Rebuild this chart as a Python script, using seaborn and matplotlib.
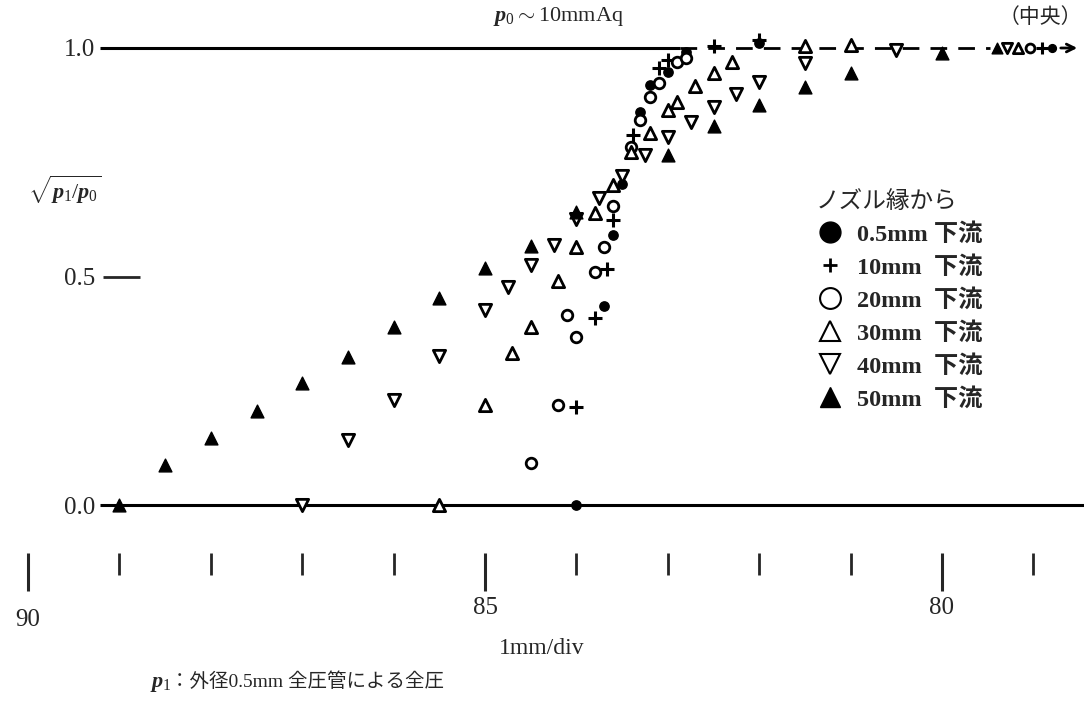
import matplotlib
matplotlib.use('Agg')
import matplotlib.pyplot as plt
import seaborn as sns
import pandas as pd
from matplotlib.lines import Line2D

# ---------------- data (position x, value sqrt(p1/p0)) ----------------
x_05 = [84.0, 83.7, 83.6, 83.5, 83.3, 83.2, 83.0, 82.8, 82.0]
y_05 = [0.0, 0.435, 0.591, 0.702, 0.860, 0.919, 0.947, 0.991, 1.011]

x_10 = [84.0, 83.8, 83.67, 83.6, 83.38, 83.1, 83.0, 82.5, 82.0]
y_10 = [0.214, 0.409, 0.516, 0.624, 0.810, 0.956, 0.974, 1.004, 1.018]

x_20 = [84.5, 84.2, 84.1, 84.0, 83.8, 83.7, 83.6, 83.4, 83.3, 83.2, 83.1, 82.9, 82.8]
y_20 = [0.092, 0.219, 0.416, 0.368, 0.510, 0.565, 0.654, 0.783, 0.842, 0.893, 0.923, 0.969, 0.978]

x_30 = [85.5, 85.0, 84.7, 84.5, 84.2, 84.0, 83.8, 83.6, 83.4, 83.2, 83.0, 82.9, 82.7, 82.5, 82.3, 81.5, 81.0]
y_30 = [0.0, 0.219, 0.333, 0.390, 0.490, 0.565, 0.639, 0.700, 0.773, 0.814, 0.864, 0.882, 0.917, 0.945, 0.969, 1.004, 1.006]

x_40 = [87.0, 86.5, 86.0, 85.5, 85.0, 84.75, 84.5, 84.25, 84.0, 83.75, 83.5, 83.25, 83.0, 82.75, 82.5, 82.25, 82.0, 81.5, 80.5]
y_40 = [0.0, 0.142, 0.230, 0.326, 0.427, 0.477, 0.525, 0.569, 0.626, 0.672, 0.720, 0.766, 0.805, 0.838, 0.871, 0.899, 0.926, 0.967, 0.996]

x_50 = [89.0, 88.5, 88.0, 87.5, 87.0, 86.5, 86.0, 85.5, 85.0, 84.5, 84.0, 83.0, 82.5, 82.0, 81.5, 81.0, 80.0]
y_50 = [0.0, 0.088, 0.147, 0.206, 0.267, 0.324, 0.389, 0.453, 0.519, 0.567, 0.641, 0.766, 0.829, 0.875, 0.915, 0.945, 0.989]

# centre values (中央), drawn in a row at the right end
center_series = ["50mm", "40mm", "30mm", "20mm", "10mm", "0.5mm"]
center_x = [79.40, 79.29, 79.17, 79.04, 78.91, 78.80]
center_y = [1.0, 1.0, 1.0, 1.0, 1.0, 1.0]

series_names = ["0.5mm", "10mm", "20mm", "30mm", "40mm", "50mm"]
legend_labels = ["0.5mm 下流", "10mm  下流", "20mm  下流", "30mm  下流", "40mm  下流", "50mm  下流"]
x_ticks_all = [90, 89, 88, 87, 86, 85, 84, 83, 82, 81, 80, 79]
x_ticks_major = [90, 85, 80]
y_ticks = [0.0, 0.5, 1.0]
y_ticklabels = ["0.0", "0.5", "1.0"]

xs = {"0.5mm": x_05, "10mm": x_10, "20mm": x_20, "30mm": x_30, "40mm": x_40, "50mm": x_50}
ys = {"0.5mm": y_05, "10mm": y_10, "20mm": y_20, "30mm": y_30, "40mm": y_40, "50mm": y_50}

# ---------------- style ----------------
sns.set_style("white")
plt.rcParams['font.family'] = ['Liberation Serif', 'Noto Sans CJK JP', 'DejaVu Sans']
plt.rcParams['mathtext.fontset'] = 'custom'
plt.rcParams['mathtext.rm'] = 'Liberation Serif'
plt.rcParams['mathtext.it'] = 'Liberation Serif:italic:bold'
plt.rcParams['mathtext.bf'] = 'Liberation Serif:bold'

styles = {
    "0.5mm": dict(marker='o', s=45, facecolor='black', edgecolor='black', linewidth=1.0),
    "10mm": dict(marker='+', s=95, color='black', linewidth=2.2),
    "20mm": dict(marker='o', s=58, facecolor='white', edgecolor='black', linewidth=2.0),
    "30mm": dict(marker='^', s=78, facecolor='white', edgecolor='black', linewidth=2.0),
    "40mm": dict(marker='v', s=78, facecolor='white', edgecolor='black', linewidth=2.0),
    "50mm": dict(marker='^', s=85, facecolor='black', edgecolor='black', linewidth=1.0),
}

W, H = 1084, 720
fig = plt.figure(figsize=(W / 100, H / 100), dpi=100)
ax = fig.add_axes([0, 0, 1, 1])

# pixel mapping: x=90 at px 28, 91.4 px per unit (reversed); y=0 at py 505, y=1 at py 48
ppu_x = 91.4
ppu_y = 457.0
ax.set_xlim(90 + 28 / ppu_x, 90 - (W - 28) / ppu_x)
ax.set_ylim(0 - (H - 505) / ppu_y, 1 + 48 / ppu_y)

def px2x(px):
    return 90 - (px - 28) / ppu_x

def py2y(py):
    return (505 - py) / ppu_y

# reference lines
ax.hlines(0.0, px2x(100), px2x(W + 5), color='black', lw=2.2, zorder=1)
ax.hlines(1.0, px2x(100), px2x(680), color='black', lw=2.2, zorder=1)
ax.plot([px2x(680), px2x(990)], [1.0, 1.0], color='black', lw=2.0, ls=(0, (6, 4)), zorder=1)
ax.annotate('', xy=(px2x(1080), 1.0), xytext=(px2x(1058), 1.0),
            arrowprops=dict(arrowstyle='->', lw=2.0, color='black', mutation_scale=14))

# data points
for name in series_names:
    df = pd.DataFrame({"x": xs[name], "y": ys[name]})
    sns.scatterplot(data=df, x="x", y="y", ax=ax, zorder=3, legend=False, **styles[name])

# centre values
for name, cx, cy in zip(center_series, center_x, center_y):
    st = dict(styles[name])
    st['s'] = st['s'] * 0.7
    sns.scatterplot(x=[cx], y=[cy], ax=ax, zorder=3, legend=False, **st)

# spines / ticks
for sp in ax.spines.values():
    sp.set_visible(False)
ax.spines['left'].set_position(('data', px2x(140)))
ax.spines['bottom'].set_position(('data', py2y(553)))
ax.set_yticks(y_ticks)
ax.set_yticklabels(y_ticklabels, fontsize=18)
ax.tick_params(axis='y', direction='out', length=27, width=2.0, pad=5, left=True)
ax.set_xticks(x_ticks_major)
ax.set_xticks([t for t in x_ticks_all if t not in x_ticks_major], minor=True)
ax.set_xticklabels([str(t) for t in x_ticks_major], fontsize=18)
ax.tick_params(axis='x', which='major', direction='out', length=27, width=2.2, pad=5, bottom=True)
ax.tick_params(axis='x', which='minor', direction='out', length=16, width=2.0, bottom=True)
for tk in ax.xaxis.get_major_ticks():
    if tk.get_loc() == 90:
        tk.tick1line.set_markersize(32)
        tk.set_pad(13)
ax.set_xlabel('')
ax.set_ylabel('')

# legend
leg_handles = [
    Line2D([], [], ls='none', marker='o', markersize=15, markerfacecolor='black', markeredgecolor='black'),
    Line2D([], [], ls='none', marker='+', markersize=10, color='black', markeredgewidth=2.0),
    Line2D([], [], ls='none', marker='o', markersize=15, markerfacecolor='white', markeredgecolor='black', markeredgewidth=1.5),
    Line2D([], [], ls='none', marker='^', markersize=14, markerfacecolor='white', markeredgecolor='black', markeredgewidth=1.5),
    Line2D([], [], ls='none', marker='v', markersize=14, markerfacecolor='white', markeredgecolor='black', markeredgewidth=1.5),
    Line2D([], [], ls='none', marker='^', markersize=14, markerfacecolor='black', markeredgecolor='black'),
]
leg = ax.legend(leg_handles, legend_labels, title='ノズル縁から', loc='upper left',
                bbox_to_anchor=(806 / W, 1 - 181 / H), frameon=False, fontsize=17.5,
                title_fontsize=17, alignment='left', handletextpad=0.5,
                labelspacing=0.42, handlelength=1.2, borderaxespad=0)
for t in leg.get_texts():
    t.set_fontweight('bold')

# texts
fig.text(558 / W, 1 - 17 / H, r'$p_0 \sim 10\mathrm{mmAq}$', ha='center', va='center', fontsize=16)
fig.text(1040 / W, 1 - 17 / H, '（中央）', ha='center', va='center', fontsize=15,
         family=['Noto Sans CJK JP', 'DejaVu Sans'])
fig.text(28 / W, 1 - 190 / H, r'$\sqrt{p_1/p_0}$', ha='left', va='center', fontsize=16)
fig.text(542 / W, 1 - 648 / H, '1mm/div', ha='center', va='center', fontsize=17)
fig.text(150 / W, 1 - 684 / H, r'$p_1$', ha='left', va='center', fontsize=16)
fig.text(170 / W, 1 - 682 / H, '：外径0.5mm 全圧管による全圧', ha='left', va='center', fontsize=14)

fig.savefig('out.png', dpi=100, facecolor='white')
